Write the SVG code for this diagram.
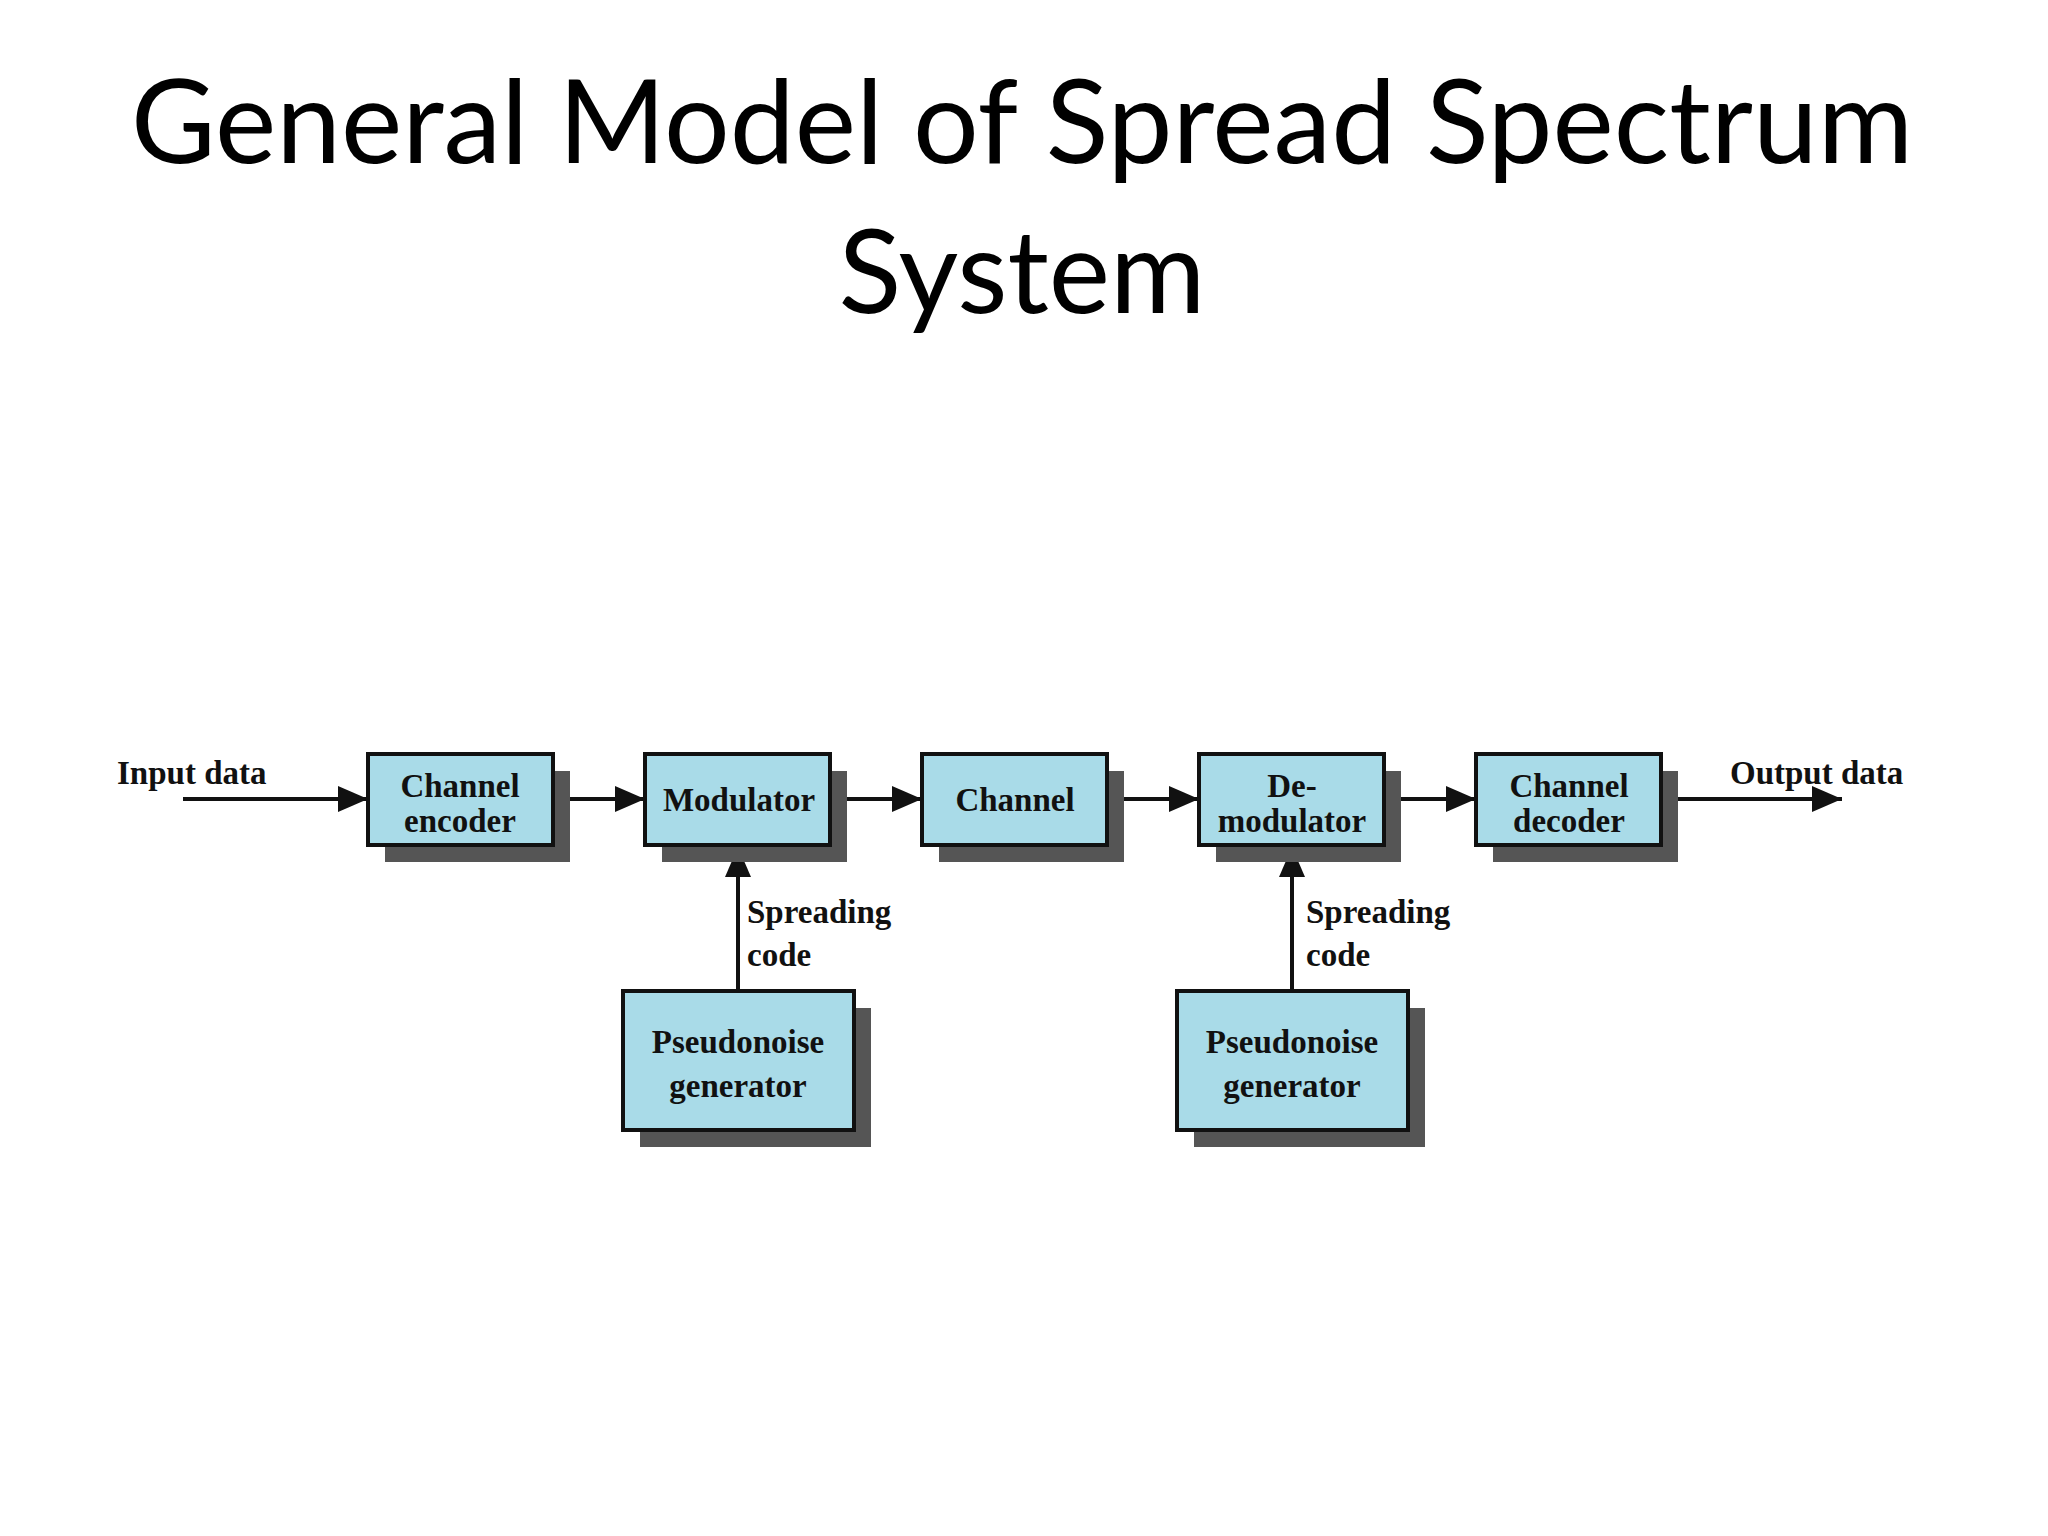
<svg xmlns="http://www.w3.org/2000/svg" width="2048" height="1536" viewBox="0 0 2048 1536">
<style>
.t{font-family:Lato,"Open Sans",sans-serif;font-size:116px;fill:#000;text-anchor:middle}
.b{fill:#a9dbe8;stroke:#111;stroke-width:4}
.s{fill:#555}
.l{font-family:"Liberation Serif",serif;font-weight:bold;font-size:33px;fill:#111}
.c{text-anchor:middle}
.w{stroke:#111;stroke-width:4;fill:none}
</style>
<defs><marker id="a" markerWidth="10" markerHeight="10" refX="9" refY="5" orient="auto" markerUnits="userSpaceOnUse" viewBox="0 0 10 10"><path d="M0,0L10,5L0,10z" fill="#111"/></marker>
<marker id="m" viewBox="0 0 10 10" refX="10" refY="5" markerWidth="30" markerHeight="26" orient="auto" markerUnits="userSpaceOnUse" preserveAspectRatio="none"><path d="M0,0L10,5L0,10z" fill="#111"/></marker></defs>
<rect width="2048" height="1536" fill="#fff"/>
<text class="t" x="1022" y="163">General Model of Spread Spectrum</text>
<text class="t" x="1022" y="313">System</text>
<g id="connectors">
<path class="w" d="M183,799H368" marker-end="url(#m)"/>
<path class="w" d="M553,799H645" marker-end="url(#m)"/>
<path class="w" d="M830,799H922" marker-end="url(#m)"/>
<path class="w" d="M1107,799H1199" marker-end="url(#m)"/>
<path class="w" d="M1384,799H1476" marker-end="url(#m)"/>
<path class="w" d="M1661,799H1842" marker-end="url(#m)"/>
<path class="w" d="M738,991V847" marker-end="url(#m)"/>
<path class="w" d="M1292,991V847" marker-end="url(#m)"/>
<text class="l" x="117" y="784">Input data</text>
<text class="l" x="1730" y="784">Output data</text>
<text class="l" x="747" y="923">Spreading</text><text class="l" x="747" y="966">code</text>
<text class="l" x="1306" y="923">Spreading</text><text class="l" x="1306" y="966">code</text>
</g>
<g id="enc"><rect class="s" x="385" y="771" width="185" height="91"/><rect class="b" x="368" y="754" width="185" height="91"/><text class="l c" x="460" y="797">Channel</text><text class="l c" x="460" y="832">encoder</text></g>
<g id="mod"><rect class="s" x="662" y="771" width="185" height="91"/><rect class="b" x="645" y="754" width="185" height="91"/><text class="l c" x="739" y="811">Modulator</text></g>
<g id="chan"><rect class="s" x="939" y="771" width="185" height="91"/><rect class="b" x="922" y="754" width="185" height="91"/><text class="l c" x="1015" y="811">Channel</text></g>
<g id="demod"><rect class="s" x="1216" y="771" width="185" height="91"/><rect class="b" x="1199" y="754" width="185" height="91"/><text class="l c" x="1292" y="797">De-</text><text class="l c" x="1292" y="832">modulator</text></g>
<g id="dec"><rect class="s" x="1493" y="771" width="185" height="91"/><rect class="b" x="1476" y="754" width="185" height="91"/><text class="l c" x="1569" y="797">Channel</text><text class="l c" x="1569" y="832">decoder</text></g>
<g id="pn1"><rect class="s" x="640" y="1008" width="231" height="139"/><rect class="b" x="623" y="991" width="231" height="139"/><text class="l c" x="738" y="1053">Pseudonoise</text><text class="l c" x="738" y="1097">generator</text></g>
<g id="pn2"><rect class="s" x="1194" y="1008" width="231" height="139"/><rect class="b" x="1177" y="991" width="231" height="139"/><text class="l c" x="1292" y="1053">Pseudonoise</text><text class="l c" x="1292" y="1097">generator</text></g>
</svg>
